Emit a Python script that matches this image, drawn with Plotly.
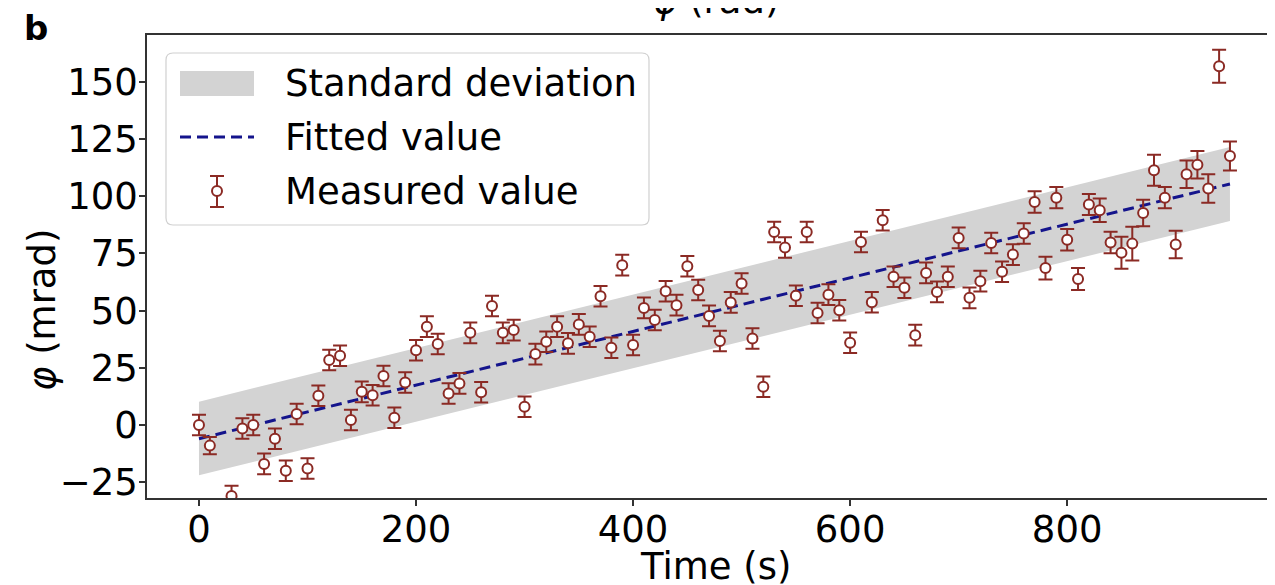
import plotly.graph_objects as go

# ---- data ----
time_s = [0, 10, 30, 40, 50, 60, 70, 80, 90, 100, 110, 120, 130, 140, 150, 160, 170, 180, 190,
          200, 210, 220, 230, 240, 250, 260, 270, 280, 290, 300, 310, 320, 330, 340, 350, 360,
          370, 380, 390, 400, 410, 420, 430, 440, 450, 460, 470, 480, 490, 500, 510, 520, 530,
          540, 550, 560, 570, 580, 590, 600, 610, 620, 630, 640, 650, 660, 670, 680, 690, 700,
          710, 720, 730, 740, 750, 760, 770, 780, 790, 800, 810, 820, 830, 840, 850, 860, 870,
          880, 890, 900, 910, 920, 930, 940, 950]
phi_mrad = [0, -9, -31, -1.5, 0, -17, -6, -20, 4.8, -19, 12.8, 28.4, 30.3, 2.2, 14.5, 13, 21.4, 3.2, 18.6,
            32.7, 43, 35.4, 13.8, 18.2, 40.3, 14.3, 52, 40.3, 41.5, 8, 31, 36.4, 43, 35.7, 44, 38.6,
            56.3, 33.8, 69.9, 35, 51.2, 45.9, 58.5, 52.4, 69.4, 59, 47.7, 36.7, 53.6, 61.9, 37.8, 16.7, 84.4,
            77.6, 56.5, 84.4, 49, 57, 50.2, 36, 80, 53.7, 89.5, 64.8, 60, 39.3, 66.5, 58.2, 64.8, 81.8,
            55.6, 62.9, 79.6, 67, 74.5, 83.7, 97.5, 68.6, 99.4, 81, 63.8, 96.4, 93.9, 79.8, 75.3, 79.3, 92.7,
            111.4, 99.4, 78.9, 109.6, 113.8, 103.4, 156.8, 117.6]
phi_err = [4.5, 3.8, 4.5, 4.5, 4.5, 4.5, 4.5, 4.5, 4.5, 4.5, 4.5, 4.5, 4.5, 4.5, 4.5, 4.5, 4.5, 4.5, 4.5,
           4.5, 4.5, 4.5, 4.5, 4.5, 4.5, 4.5, 4.5, 4.5, 4.5, 4.5, 4.5, 4.5, 4.5, 4.5, 4.5, 4.5,
           4.5, 4.5, 4.5, 4.5, 4.5, 4.5, 4.5, 4.5, 4.5, 4.5, 4.5, 4.5, 4.5, 4.5, 4.5, 4.5, 4.5,
           4.5, 4.5, 4.5, 4.5, 4.5, 4.5, 4.5, 4.5, 4.5, 4.5, 4.5, 4.5, 4.5, 4.5, 4.5, 4.5, 4.5,
           4.5, 4.5, 4.5, 4.5, 4.5, 4.5, 4.7, 5.0, 4.6, 4.7, 4.8, 4.6, 5.1, 4.7, 7.0, 7.4, 5.8,
           6.8, 4.6, 6.0, 6.0, 6.0, 6.2, 7.2, 6.3]
fit_time = [0, 950]
fit_phi = [-6, 105.4]
band_upper = [10.2, 121.5]
band_lower = [-22.0, 89.2]

x_ticks = [0, 200, 400, 600, 800]
y_ticks = [-25, 0, 25, 50, 75, 100, 125, 150]

RED = "#8b2a24"
BLUE = "#14148c"
GRAY = "#d3d3d3"
FONT = "DejaVu Sans"
FS = 37

# the page body adds an 8px offset; figure sized so it ends at the window edge
OFF = 8
W, H = 1275 - OFF, 585 - OFF
L, R, T, B = 147 - OFF, 0, 35 - OFF, 87
PW, PH = W - L - R, H - T - B


def px(xs):
    """screen x (px) -> paper x"""
    return (xs - OFF - L) / PW


def py(ys):
    """screen y (px) -> paper y"""
    return (H - B - (ys - OFF)) / PH


fig = go.Figure()
fig.add_trace(go.Scatter(x=fit_time, y=band_lower, mode="lines", line=dict(width=0),
                         hoverinfo="skip", showlegend=False))
fig.add_trace(go.Scatter(x=fit_time, y=band_upper, mode="lines", line=dict(width=0),
                         fill="tonexty", fillcolor=GRAY, name="Standard deviation", showlegend=False))
fig.add_trace(go.Scatter(x=fit_time, y=fit_phi, mode="lines",
                         line=dict(color=BLUE, width=3, dash="11px,6px"),
                         name="Fitted value", showlegend=False))
fig.add_trace(go.Scatter(x=time_s, y=phi_mrad, mode="markers", name="Measured value",
                         marker=dict(symbol="circle", size=10, color="white",
                                     line=dict(color=RED, width=2)),
                         error_y=dict(type="data", array=phi_err, color=RED, thickness=2, width=7),
                         showlegend=False))

# ---- custom legend (matplotlib-like) ----
shapes = []
lx0, ly0, lx1, ly1, rr = 166, 53, 649, 225, 7
path = (f"M {px(lx0+rr)} {py(ly0)} L {px(lx1-rr)} {py(ly0)} "
        f"Q {px(lx1)} {py(ly0)} {px(lx1)} {py(ly0+rr)} L {px(lx1)} {py(ly1-rr)} "
        f"Q {px(lx1)} {py(ly1)} {px(lx1-rr)} {py(ly1)} L {px(lx0+rr)} {py(ly1)} "
        f"Q {px(lx0)} {py(ly1)} {px(lx0)} {py(ly1-rr)} L {px(lx0)} {py(ly0+rr)} "
        f"Q {px(lx0)} {py(ly0)} {px(lx0+rr)} {py(ly0)} Z")
shapes.append(dict(type="path", xref="paper", yref="paper", path=path,
                   fillcolor="rgba(255,255,255,0.85)", line=dict(color="#d0d0d0", width=1.2)))
shapes.append(dict(type="rect", xref="paper", yref="paper", x0=px(180), x1=px(254),
                   y0=py(96), y1=py(71), fillcolor=GRAY, line=dict(width=0)))
shapes.append(dict(type="line", xref="paper", yref="paper", x0=px(180), x1=px(254),
                   y0=py(137), y1=py(137), line=dict(color=BLUE, width=3, dash="11px,6px")))
# measured-value key: error bar + open circle
shapes.append(dict(type="line", xref="paper", yref="paper", x0=px(217), x1=px(217),
                   y0=py(176), y1=py(207), line=dict(color=RED, width=2)))
shapes.append(dict(type="line", xref="paper", yref="paper", x0=px(210), x1=px(224),
                   y0=py(176), y1=py(176), line=dict(color=RED, width=2)))
shapes.append(dict(type="line", xref="paper", yref="paper", x0=px(210), x1=px(224),
                   y0=py(207), y1=py(207), line=dict(color=RED, width=2)))
shapes.append(dict(type="circle", xref="paper", yref="paper", x0=px(212), x1=px(222),
                   y0=py(196), y1=py(186), fillcolor="white", line=dict(color=RED, width=2)))

annotations = []
for label, yy in [("Standard deviation", 83), ("Fitted value", 137), ("Measured value", 191)]:
    annotations.append(dict(text=label, xref="paper", yref="paper", x=px(283), y=py(yy),
                            xanchor="left", yanchor="middle", showarrow=False,
                            font=dict(family=FONT, size=FS, color="black")))
annotations.append(dict(text="<b>b</b>", xref="paper", yref="paper", x=px(36), y=py(28),
                        xanchor="center", yanchor="middle", showarrow=False,
                        font=dict(family=FONT, size=34, color="black")))
annotations.append(dict(text="<i>φ</i> (rad)", xref="paper", yref="paper", x=px(716), y=py(0),
                        xanchor="center", yanchor="middle", showarrow=False,
                        font=dict(family=FONT, size=FS, color="black")))
annotations.append(dict(text="<i>φ</i> (mrad)", xref="paper", yref="paper", x=px(42), y=py(310),
                        xanchor="center", yanchor="middle", textangle=-90, showarrow=False,
                        font=dict(family=FONT, size=FS, color="black")))
annotations.append(dict(text="Time (s)", xref="paper", yref="paper", x=px(715), y=py(566),
                        xanchor="center", yanchor="middle", showarrow=False,
                        font=dict(family=FONT, size=FS, color="black")))

fig.update_layout(
    width=W, height=H,
    margin=dict(l=L, r=R, t=T, b=B, pad=0),
    paper_bgcolor="white", plot_bgcolor="white",
    font=dict(family=FONT, size=FS, color="black"),
    shapes=shapes, annotations=annotations,
    showlegend=False,
    xaxis=dict(range=[-47.9, 991.5], tickvals=x_ticks, ticks="outside", ticklen=6, tickwidth=1.5,
               tickcolor="#333", showline=True, linecolor="#333", linewidth=1.5, mirror=True,
               showgrid=False, zeroline=False, tickfont=dict(size=FS), ticklabelstandoff=-8),
    yaxis=dict(range=[-31.9, 170.5], tickvals=y_ticks,
               ticktext=["\u221225" if v < 0 else str(v) for v in y_ticks],
               ticks="outside", ticklen=6, tickwidth=1.5, tickcolor="#333", showline=True,
               linecolor="#333", linewidth=1.5, showgrid=False, zeroline=False,
               tickfont=dict(size=FS), ticklabelstandoff=-6),
)

fig.write_html("out.html")
